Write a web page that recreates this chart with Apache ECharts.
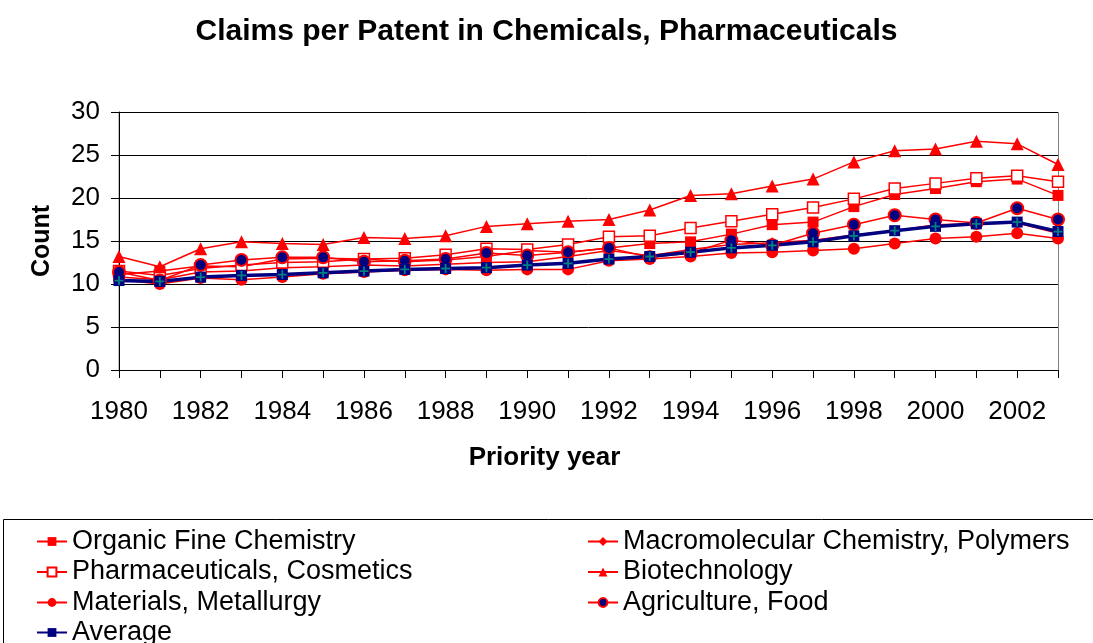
<!DOCTYPE html>
<html>
<head>
<meta charset="utf-8">
<script src="https://cdn.jsdelivr.net/npm/echarts@6/dist/echarts.min.js"></script>
<style>
  html, body { margin: 0; padding: 0; background: #fff; }
  #chart { width: 1093px; height: 643px; }
</style>
</head>
<body>
<div id="chart"></div>
<script>
// years on the x axis
var years = [];
for (var y = 1980; y <= 2003; y++) years.push(String(y));

var organicFine = [11.1, 11.5, 12.1, 12.0, 12.9, 13.0, 12.9, 12.6, 12.8, 13.2, 13.9, 13.7, 14.2, 14.7, 14.9, 15.8, 16.9, 17.2, 19.0, 20.4, 21.1, 21.9, 22.2, 20.3];
var macromolecular = [10.8, 10.5, 11.4, 11.5, 11.9, 12.0, 12.2, 12.1, 12.3, 12.5, 12.6, 13.2, 13.9, 13.3, 14.0, 14.6, 14.8, 15.1, 15.7, 16.2, 16.9, 17.0, 17.1, 15.9];
var pharma = [11.5, 11.0, 11.8, 12.2, 12.5, 12.6, 12.9, 13.0, 13.4, 14.1, 14.0, 14.6, 15.5, 15.6, 16.5, 17.3, 18.1, 18.9, 19.9, 21.1, 21.7, 22.3, 22.6, 21.9];
var biotech = [13.2, 12.0, 14.1, 14.9, 14.7, 14.6, 15.4, 15.3, 15.6, 16.7, 17.0, 17.3, 17.5, 18.6, 20.3, 20.5, 21.4, 22.2, 24.2, 25.5, 25.7, 26.6, 26.3, 23.9];
var materials = [10.5, 10.0, 10.7, 10.5, 10.8, 11.2, 11.4, 11.6, 11.7, 11.6, 11.7, 11.7, 12.7, 12.9, 13.2, 13.6, 13.7, 13.9, 14.1, 14.7, 15.3, 15.5, 15.9, 15.3];
var agriculture = [11.4, 10.4, 12.2, 12.8, 13.1, 13.1, 12.6, 12.7, 12.9, 13.6, 13.3, 13.7, 14.2, 13.1, 13.6, 15.1, 14.5, 15.9, 16.9, 18.0, 17.5, 17.1, 18.8, 17.5];
var average = [10.4, 10.3, 10.8, 11.0, 11.1, 11.3, 11.5, 11.7, 11.8, 11.9, 12.2, 12.4, 12.9, 13.2, 13.7, 14.2, 14.5, 14.9, 15.6, 16.2, 16.7, 17.0, 17.2, 16.1];

var FONT = 'Liberation Sans, Arial, sans-serif';
var RED = '#ff0000';
var NAVY = '#000080';

var chart = echarts.init(document.getElementById('chart'));

function redLine(name, data, symbol, size, itemStyle) {
  return {
    name: name,
    type: 'line',
    data: data,
    symbol: symbol,
    symbolSize: size,
    showSymbol: true,
    lineStyle: { color: RED, width: 1.5 },
    itemStyle: itemStyle || { color: RED },
    animation: false
  };
}

var legendText = { fontFamily: FONT, fontSize: 27, color: '#000', lineHeight: 27 };
function legendCol(left, top, names) {
  return {
    orient: 'vertical',
    left: left,
    top: top,
    itemGap: 3.5,
    itemWidth: 30,
    itemHeight: 11,
    textStyle: legendText,
    data: names
  };
}

var option = {
  title: {
    text: 'Claims per Patent in Chemicals, Pharmaceuticals',
    left: 'center',
    top: 12,
    textStyle: { fontFamily: FONT, fontSize: 30, fontWeight: 'bold', color: '#000' }
  },
  grid: { left: 119, right: 35, top: 112, bottom: 273 },
  legend: [
    legendCol(31, 523, ['Organic Fine Chemistry', 'Pharmaceuticals, Cosmetics', 'Materials, Metallurgy']),
    legendCol(31, 614, ['Average']),
    legendCol(582, 523, ['Macromolecular Chemistry, Polymers', 'Biotechnology', 'Agriculture, Food'])
  ],
  graphic: [
    {
      type: 'rect',
      shape: { x: 3.5, y: 519.5, width: 1200, height: 200 },
      style: { fill: 'none', stroke: '#000', lineWidth: 1 },
      z: -1
    },
    {
      type: 'rect',
      shape: { x: 119, y: 112.5, width: 939.5, height: 258 },
      style: { fill: 'none', stroke: '#808080', lineWidth: 1 },
      z: -1
    }
  ],
  xAxis: {
    type: 'category',
    data: years,
    boundaryGap: false,
    name: 'Priority year',
    nameLocation: 'middle',
    nameGap: 75,
    nameTextStyle: { fontFamily: FONT, fontSize: 26, fontWeight: 'bold', color: '#000', padding: [0, 88, 0, 0] },
    axisLine: { lineStyle: { color: '#000', width: 1 } },
    axisTick: { show: true, interval: 0, length: 8, lineStyle: { color: '#000' } },
    axisLabel: { interval: 1, margin: 29, fontFamily: FONT, fontSize: 26, color: '#000' },
    splitLine: { show: false }
  },
  yAxis: {
    type: 'value',
    min: 0,
    max: 30,
    interval: 5,
    name: 'Count',
    nameLocation: 'middle',
    nameGap: 64,
    nameTextStyle: { fontFamily: FONT, fontSize: 25, fontWeight: 'bold', color: '#000' },
    axisLine: { show: true, lineStyle: { color: '#000', width: 1 } },
    axisTick: { show: true, length: 8, lineStyle: { color: '#000' } },
    axisLabel: { margin: 19, fontFamily: FONT, fontSize: 26, color: '#000' },
    splitLine: { show: true, lineStyle: { color: '#000', width: 1 } }
  },
  series: [
    redLine('Organic Fine Chemistry', organicFine, 'rect', 11),
    redLine('Macromolecular Chemistry, Polymers', macromolecular, 'diamond', 11),
    redLine('Pharmaceuticals, Cosmetics', pharma, 'rect', 11, { color: '#fff', borderColor: RED, borderWidth: 1.5 }),
    redLine('Biotechnology', biotech, 'triangle', 13),
    redLine('Materials, Metallurgy', materials, 'circle', 12),
    redLine('Agriculture, Food', agriculture, 'circle', 12, { color: NAVY, borderColor: RED, borderWidth: 2 }),
    {
      name: 'Average',
      type: 'line',
      data: average,
      symbol: 'rect',
      symbolSize: 11,
      lineStyle: { color: NAVY, width: 3.5 },
      itemStyle: { color: NAVY },
      animation: false,
      z: 3
    },
    {
      // teal cross drawn on top of the average markers
      name: 'AverageCross',
      type: 'line',
      data: average,
      symbol: 'path://M4,0h2v4h4v2h-4v4h-2v-4h-4v-2h4z',
      symbolSize: 9,
      lineStyle: { opacity: 0 },
      itemStyle: { color: '#008080' },
      silent: true,
      animation: false,
      z: 4
    }
  ]
};

chart.setOption(option);
</script>
</body>
</html>
